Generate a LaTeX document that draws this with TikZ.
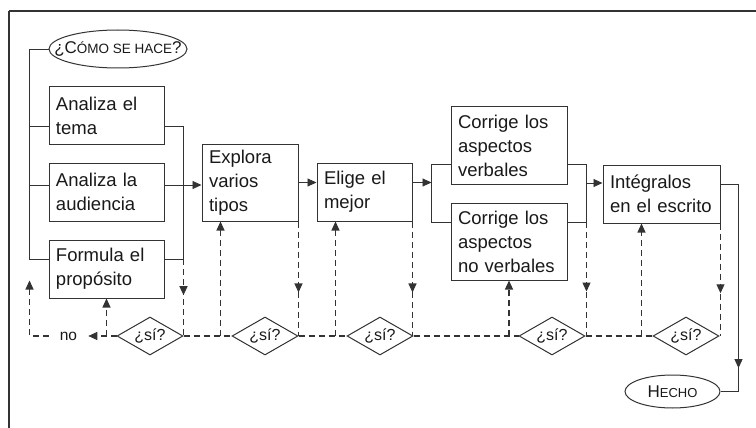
\documentclass[tikz,border=0pt]{standalone}
\usepackage{fontspec}
\setmainfont{Liberation Sans}
\usetikzlibrary{arrows.meta,shapes.geometric,calc,decorations.markings}
\definecolor{lc}{gray}{0.2}
\definecolor{tc}{gray}{0.1}
\newcommand\mysc[2]{{\fontsize{#1}{#1}\selectfont #2}}
\begin{document}
\begin{tikzpicture}[x=1pt,y=-1pt,
  box/.style={draw=lc, line width=1pt, rectangle, inner xsep=7pt, inner ysep=2pt, align=left, text=tc, font=\fontsize{18.5}{24}\selectfont},
  dia/.style={draw=lc, line width=1pt, diamond, aspect=1.74, minimum width=66pt, minimum height=38pt, inner sep=0pt, text=tc, font=\fontsize{16}{16}\selectfont},
  oval/.style={draw=lc, line width=1pt, ellipse, inner sep=0pt, text=tc},
  ln/.style={draw=lc, line width=0.9pt},
  dl/.style={draw=lc, line width=1.1pt, dash pattern=on 6pt off 4pt},
  arr/.style={-{Triangle[length=9pt,width=8pt]}},
  midtip/.style={postaction={decorate}, decoration={markings, mark=at position #1 with {\arrow{Triangle[length=9pt,width=8pt]}}}},
]
\useasboundingbox (0,0) rectangle (756,428);
% frame
\draw[draw=lc, line width=1.8pt] (9,428) -- (9,11);
\draw[draw=lc, line width=1.1pt] (9,11) -- (756,11);

% nodes
\node[oval, minimum width=138pt, minimum height=38pt,
  label={[text=tc, font=\fontsize{17}{17}\selectfont]center:¿C\mysc{13.5}{ÓMO SE HACE}?}] (como) at (118,49) {};
\node[box, text width=101pt, minimum height=57pt] (tema) at (106.5,115.5) {Analiza el\\tema};
\node[box, text width=101pt, minimum height=58pt] (aud) at (106.5,192) {Analiza la\\audiencia};
\node[box, text width=101pt, minimum height=58pt] (form) at (106.5,269) {Formula el\\propósito};
\node[box, text width=82pt, minimum height=77pt] (expl) at (250,182.5) {Explora\\varios\\tipos};
\node[box, text width=81pt, minimum height=58pt] (elige) at (364.5,192) {Elige el\\mejor};
\node[box, text width=102pt, minimum height=77pt] (cv) at (509,145.5) {Corrige los\\aspectos\\verbales};
\node[box, text width=102pt, minimum height=77pt] (cnv) at (509,241.5) {Corrige los\\aspectos\\no verbales};
\node[box, text width=103pt, minimum height=58pt] (integ) at (661.5,194) {Intégralos\\en el escrito};
\node[oval, minimum width=95pt, minimum height=33pt, font=\fontsize{17}{17}\selectfont] (hecho) at (672.5,391.5) {H\mysc{13}{ECHO}};

\node[dia] (d1) at (150,336) {¿sí?};
\node[dia] (d2) at (265,336) {¿sí?};
\node[dia] (d3) at (380,336) {¿sí?};
\node[dia] (d4) at (552,336) {¿sí?};
\node[dia] (d5) at (686,336) {¿sí?};
\node[text=tc, font=\fontsize{15.5}{15.5}\selectfont, inner xsep=11pt, inner ysep=2pt] (no) at (68.5,336) {no};

% left spine
\coordinate (spine) at ($(form.west)+(-19,-10)$);
\draw[ln] (como.west) -| (spine) -- (spine -| form.west);
\coordinate (tl) at ($(tema.west)+(0,10.5)$);
\draw[ln] (tl) -- (tl -| spine);
\coordinate (al) at ($(aud.west)+(0,-7)$);
\draw[ln] (al) -- (al -| spine);

% right join of first column
\coordinate (tr) at ($(tema.east)+(0,10.5)$);
\coordinate (rj) at ($(tr)+(19,0)$);
\coordinate (fr) at ($(form.east)+(0,-10)$);
\draw[ln] (tr) -- (rj) -- (rj |- fr) -- (fr);
\coordinate (ar) at ($(aud.east)+(0,-7)$);
\draw[ln] (ar) -- (ar -| rj);
\draw[ln,arr] (ar -| rj) -- (ar -| expl.west);
\draw[dl, midtip=0.47] (rj |- fr) -- (rj |- d1.east);

% "no" branch
\draw[dl, arr] (d1.west) -- (no.east);
\draw[dl, arr] (form.south |- d1.west) -- (form.south);
\coordinate (nu) at ($(spine |- form.south)+(0,-18)$);
\draw[dl, arr] (no.west) -| (nu);

% explora / elige
\draw[ln, arr] (expl.east) -- (expl.east -| elige.west);
\coordinate (u2) at ($(expl.south west)+(19,0)$);
\draw[dl, arr] (u2 |- d1.east) -- (u2);
\draw[dl, midtip=0.62] (expl.south east) -- (expl.south east |- d2.east);
\coordinate (u3) at ($(elige.south west)+(19,0)$);
\draw[dl, arr] (u3 |- d2.east) -- (u3);
\draw[dl, midtip=0.62] (elige.south east) -- (elige.south east |- d3.east);

% branch to corrige
\coordinate (cvl) at ($(cv.west)+(0,18.5)$);
\coordinate (cnvl) at ($(cnv.west)+(0,-19.5)$);
\coordinate (bj) at ($(cvl)+(-19,0)$);
\draw[ln, arr] (expl.east -| elige.east) -- (expl.east -| bj);
\draw[ln] (cvl) -- (bj) -- (bj |- cnvl) -- (cnvl);
\coordinate (cvr) at ($(cv.east)+(0,18.5)$);
\coordinate (cnvr) at ($(cnv.east)+(0,-19.5)$);
\coordinate (bj2) at ($(cvr)+(19,0)$);
\draw[ln] (cvr) -- (bj2) -- (bj2 |- cnvr) -- (cnvr);
\coordinate (il) at ($(integ.west)+(0,-11)$);
\draw[ln, arr] (il -| bj2) -- (il);
\draw[dl, midtip=0.61] (bj2 |- cnvr) -- (bj2 |- d4.east);
\draw[dl, arr] (cnv.south |- d4.west) -- (cnv.south);

% integralos
\coordinate (u5) at ($(integ.south west)+(39,0)$);
\draw[dl, arr] (u5 |- d4.east) -- (u5);
\draw[dl, midtip=0.62] (integ.south east) -- (integ.south east |- d5.east);
\coordinate (ir) at ($(integ.east)+(0,-10)$);
\coordinate (hj) at ($(ir)+(18,0)$);
\draw[ln, midtip=0.83] (ir) -| (hj |- hecho.east) -- (hecho.east);

% dashed baseline
\draw[dl] (d1.east) -- (d2.west);
\draw[dl] (d2.east) -- (d3.west);
\draw[dl] (d3.east) -- (d4.west);
\draw[dl] (d4.east) -- (d5.west);
\end{tikzpicture}
\end{document}
